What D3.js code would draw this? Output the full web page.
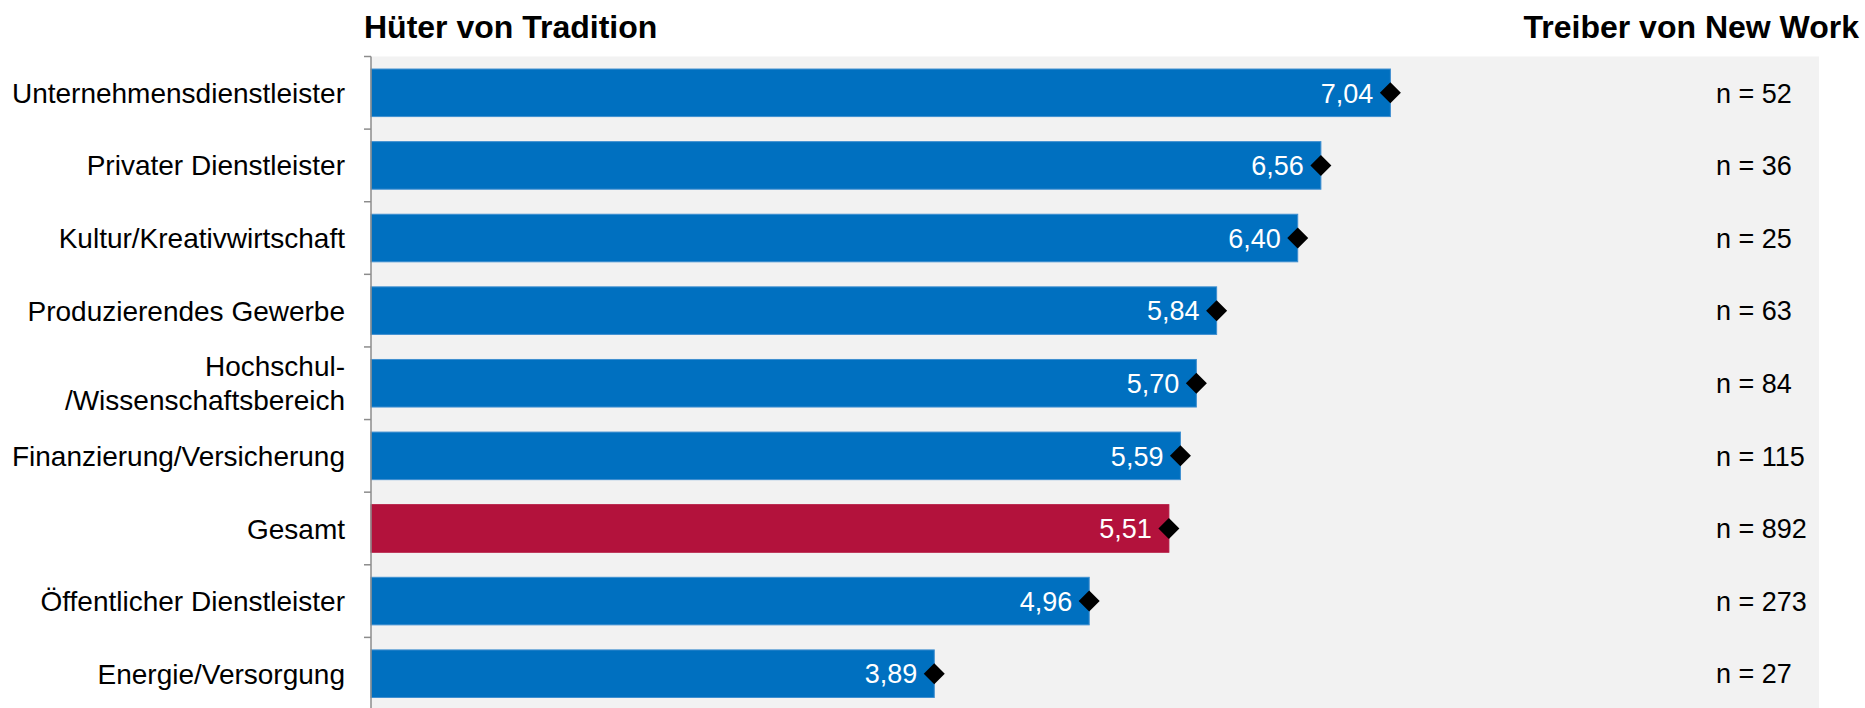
<!DOCTYPE html>
<html>
<head>
<meta charset="utf-8">
<script src="https://cdn.jsdelivr.net/npm/d3@7"></script>
<style>
  html, body { margin: 0; padding: 0; background: #ffffff; }
  svg { display: block; font-family: "Liberation Sans", Arial, sans-serif; }
</style>
</head>
<body>
<svg id="chart" width="1865" height="708"></svg>
<script>
const categories = [
  "Unternehmensdienstleister",
  "Privater Dienstleister",
  "Kultur/Kreativwirtschaft",
  "Produzierendes Gewerbe",
  "Hochschul-\n/Wissenschaftsbereich",
  "Finanzierung/Versicherung",
  "Gesamt",
  "Öffentlicher Dienstleister",
  "Energie/Versorgung"
];
const values = [7.04, 6.56, 6.40, 5.84, 5.70, 5.59, 5.51, 4.96, 3.89];
const sampleSizes = [52, 36, 25, 63, 84, 115, 892, 273, 27];
const highlight = ["Gesamt"];
const xDomain = [0, 10];
const leftTitle = "Hüter von Tradition";
const rightTitle = "Treiber von New Work";

const svg = d3.select("#chart");
const x0 = 371, x1 = 1819, yTop = 56.5, yBottom = 710;

const x = d3.scaleLinear().domain(xDomain).range([x0, x1]);
const y = d3.scaleBand().domain(categories).range([yTop, yBottom]).paddingInner(0.345).paddingOuter(0.1725);

const fmt = v => d3.format(".2f")(v).replace(".", ",");

// plot background
svg.append("rect")
  .attr("x", x(xDomain[0])).attr("y", yTop)
  .attr("width", x(xDomain[1]) - x(xDomain[0]))
  .attr("height", 708 - yTop)
  .attr("fill", "#f2f2f2");

// titles
svg.append("text").attr("x", 364).attr("y", 38)
  .attr("font-size", 32).attr("font-weight", "bold").attr("fill", "#000")
  .text(leftTitle);
svg.append("text").attr("x", 1859).attr("y", 38)
  .attr("text-anchor", "end")
  .attr("font-size", 32).attr("font-weight", "bold").attr("fill", "#000")
  .text(rightTitle);

// bars
const rows = categories.map((c, i) => ({ c, v: values[i], n: sampleSizes[i] }));

svg.selectAll("rect.bar").data(rows).join("rect")
  .attr("class", "bar")
  .attr("x", x(0))
  .attr("y", d => y(d.c))
  .attr("width", d => x(d.v) - x(0))
  .attr("height", y.bandwidth())
  .attr("fill", d => highlight.includes(d.c) ? "#b3123c" : "#0070c0")
  .attr("stroke", d => highlight.includes(d.c) ? "#b3123c" : "#3f8fd0")
  .attr("stroke-width", 1);

// value labels
svg.selectAll("text.val").data(rows).join("text")
  .attr("class", "val")
  .attr("x", d => x(d.v) - 17)
  .attr("y", d => y(d.c) + y.bandwidth() / 2)
  .attr("dy", "0.36em")
  .attr("text-anchor", "end")
  .attr("font-size", 27)
  .attr("fill", "#ffffff")
  .text(d => fmt(d.v));

// diamonds
svg.selectAll("path.dia").data(rows).join("path")
  .attr("class", "dia")
  .attr("transform", d => `translate(${x(d.v)},${y(d.c) + y.bandwidth() / 2})`)
  .attr("d", "M0,-10.5L10.5,0L0,10.5L-10.5,0Z")
  .attr("fill", "#000");

// n labels
svg.selectAll("text.n").data(rows).join("text")
  .attr("class", "n")
  .attr("x", 1716)
  .attr("y", d => y(d.c) + y.bandwidth() / 2)
  .attr("dy", "0.36em")
  .attr("font-size", 27)
  .attr("fill", "#000")
  .text(d => "n = " + d.n);

// y axis
const axisG = svg.append("g").attr("transform", `translate(${x0},0)`);
axisG.call(d3.axisLeft(y).tickSize(0).tickFormat(""));
axisG.select(".domain").attr("d", `M0,${yTop}V708`).attr("stroke", "#8c8c8c").attr("stroke-width", 1.5);
const boundaries = d3.range(categories.length).map(i => y(categories[i]) - y.step() * y.paddingInner() / 2);
axisG.selectAll("line.bt").data(boundaries).join("line")
  .attr("class", "bt")
  .attr("x1", -7).attr("x2", 0)
  .attr("y1", d => d).attr("y2", d => d)
  .attr("stroke", "#8c8c8c").attr("stroke-width", 1.5);

// category labels
svg.selectAll("text.cat").data(rows).join("text")
  .attr("class", "cat")
  .attr("x", 345)
  .attr("y", d => y(d.c) + y.bandwidth() / 2)
  .attr("text-anchor", "end")
  .attr("font-size", 28)
  .attr("fill", "#000")
  .each(function(d) {
    const lines = d.c.split("\n");
    const lh = 34;
    const t = d3.select(this);
    lines.forEach((ln, k) => {
      t.append("tspan")
        .attr("x", 345)
        .attr("dy", k === 0 ? ((0.36 * 28) - (lines.length - 1) * lh / 2) + "px" : lh + "px")
        .text(ln);
    });
  });
</script>
</body>
</html>
